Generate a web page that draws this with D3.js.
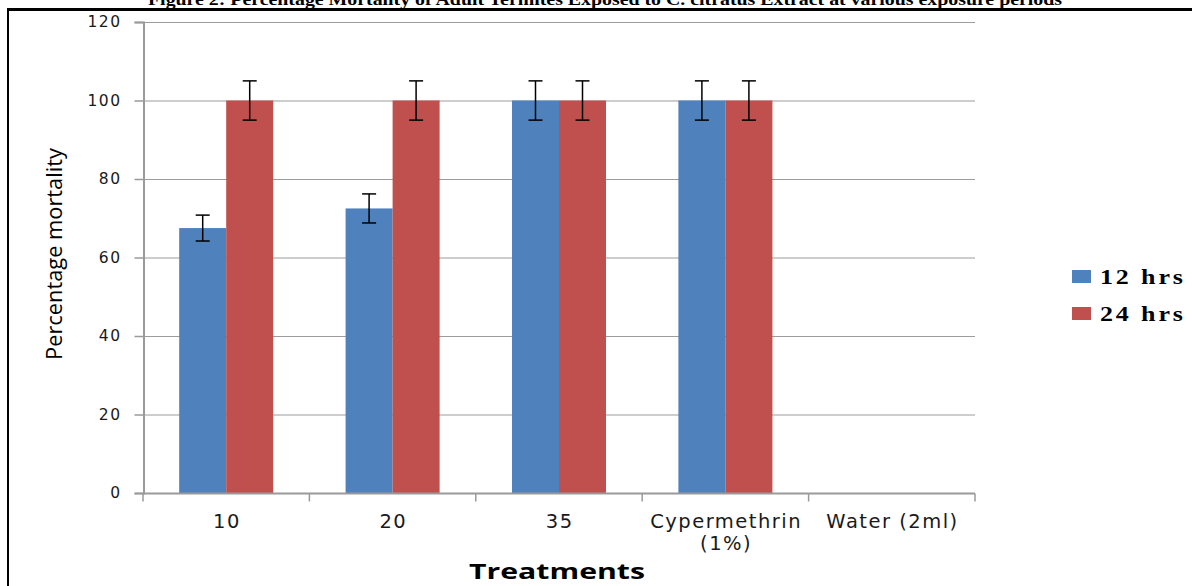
<!DOCTYPE html>
<html><head><meta charset="utf-8">
<script src="https://cdn.jsdelivr.net/npm/d3@7"></script>
<style>body{margin:0;background:#fff;} svg{display:block;}</style>
</head><body>
<svg id="c" width="1192" height="586"></svg>
<script>
const categories = ["10", "20", "35", "Cypermethrin (1%)", "Water (2ml)"];
const categoryLines = [["10"], ["20"], ["35"], ["Cypermethrin", "(1%)"], ["Water (2ml)"]];
const seriesNames = ["12 hrs", "24 hrs"];
const values12 = [67.5, 72.5, 100, 100, 0];
const values24 = [100, 100, 100, 100, 0];
const errors12 = [3.3, 3.7, 5, 5, 0];
const errors24 = [5, 5, 5, 5, 0];
const yTicks = [0, 20, 40, 60, 80, 100, 120];
const colors = ["#4F81BD", "#C0504D"];
const titleText = "Figure 2: Percentage Mortality of Adult Termites Exposed to C. citratus Extract at various exposure periods";

(function(){
const svg = d3.select("#c");
const mLeft = 143, mRight = 975, mTop = 22, mBottom = 493;

// frame
svg.append("line").attr("x1",8).attr("x2",1192).attr("y1",9.5).attr("y2",9.5).attr("stroke","#000").attr("stroke-width",3);
svg.append("line").attr("x1",8).attr("x2",8).attr("y1",8).attr("y2",586).attr("stroke","#000").attr("stroke-width",2);
svg.append("text").attr("x",605).attr("y",5).attr("text-anchor","middle")
  .attr("font-family","Liberation Serif, Times New Roman, serif").attr("font-weight","bold").attr("font-size",16)
  .attr("textLength",914).attr("lengthAdjust","spacingAndGlyphs")
  .text(titleText);

const x0 = d3.scaleBand().domain(categories).range([mLeft, mRight]).paddingInner(0).paddingOuter(0);
const x1 = d3.scaleBand().domain(seriesNames).range([0, x0.bandwidth()]).paddingInner(0).paddingOuter(0.77);
const y = d3.scaleLinear().domain([0, 120]).range([mBottom, mTop]);

// gridlines
svg.append("g").selectAll("line").data(yTicks.filter(d=>d>0)).join("line")
  .attr("x1", mLeft).attr("x2", mRight).attr("y1", d=>y(d)+0.5).attr("y2", d=>y(d)+0.5)
  .attr("stroke","#9c9c9c").attr("stroke-width",1.2);

// y axis
const yAxis = svg.append("g").attr("transform",`translate(${mLeft+0.5},0)`)
  .call(d3.axisLeft(y).tickValues(yTicks).tickSize(9).tickPadding(13));
yAxis.select(".domain").attr("stroke","#9a9a9a").attr("stroke-width",2);
yAxis.selectAll(".tick line").attr("stroke","#9a9a9a").attr("stroke-width",1.5);
yAxis.selectAll("text").attr("font-family","DejaVu Sans, Verdana, sans-serif").attr("font-size",15.5)
  .attr("letter-spacing",1.5).attr("fill","#1a1a1a");

// bars
const data = [values12, values24];
const errs = [errors12, errors24];
seriesNames.forEach((s, si) => {
  const g = svg.append("g");
  g.selectAll("rect").data(categories).join("rect")
    .attr("x", c => x0(c) + x1(s))
    .attr("width", x1.bandwidth())
    .attr("y", (c,i) => y(data[si][i]))
    .attr("height", (c,i) => y(0) - y(data[si][i]))
    .attr("fill", colors[si]);
});

// x axis
const xAxis = svg.append("g").attr("transform",`translate(0,${mBottom+0.5})`);
xAxis.append("line").attr("x1",mLeft).attr("x2",mRight).attr("stroke","#9a9a9a").attr("stroke-width",2);
const bounds = categories.map(c=>x0(c)).concat([mRight]);
xAxis.selectAll("line.tk").data(bounds).join("line").attr("class","tk")
  .attr("x1",d=>d).attr("x2",d=>d).attr("y1",0).attr("y2",8).attr("stroke","#9a9a9a").attr("stroke-width",1.5);
xAxis.selectAll("text").data(categories).join("text")
  .attr("text-anchor","middle")
  .attr("font-family","DejaVu Sans, Verdana, sans-serif").attr("font-size",19.5)
  .attr("letter-spacing",1.5).attr("fill","#1a1a1a")
  .each(function(c,i){
    d3.select(this).selectAll("tspan").data(categoryLines[i]).join("tspan")
      .attr("x", x0(c) + x0.bandwidth()/2 + 0.75).attr("y",(d,j)=>34 + j*22).text(d=>d);
  });

// error bars
seriesNames.forEach((s, si) => {
  const g = svg.append("g").attr("stroke","#000").attr("stroke-width",1.5);
  categories.forEach((c,i) => {
    const e = errs[si][i];
    if (!e) return;
    const cx = x0(c) + x1(s) + x1.bandwidth()/2;
    const v = data[si][i];
    g.append("line").attr("x1",cx).attr("x2",cx).attr("y1",y(v+e)).attr("y2",y(v-e));
    g.append("line").attr("x1",cx-7).attr("x2",cx+7).attr("y1",y(v+e)).attr("y2",y(v+e));
    g.append("line").attr("x1",cx-7).attr("x2",cx+7).attr("y1",y(v-e)).attr("y2",y(v-e));
  });
});

// axis titles
svg.append("text").attr("transform","translate(62,254) rotate(-90)").attr("text-anchor","middle")
  .attr("font-family","Open Sans, DejaVu Sans, sans-serif").attr("font-size",22).attr("fill","#000")
  .attr("textLength",212).attr("lengthAdjust","spacingAndGlyphs")
  .text("Percentage mortality");
svg.append("text").attr("x",557).attr("y",579).attr("text-anchor","middle")
  .attr("font-family","Open Sans, DejaVu Sans, sans-serif").attr("font-weight","bold").attr("font-size",21).attr("fill","#000")
  .attr("textLength",176).attr("lengthAdjust","spacingAndGlyphs")
  .text("Treatments");

// legend
const leg = svg.append("g");
seriesNames.forEach((s, si) => {
  const yy = 270 + si*37;
  leg.append("rect").attr("x",1072).attr("y",yy).attr("width",19).attr("height",13).attr("fill",colors[si]);
  leg.append("text").attr("transform",`translate(1100,${yy+14}) scale(1.3,1)`)
    .attr("font-family","Liberation Serif, Times New Roman, serif")
    .attr("font-weight","bold").attr("font-size",20).attr("letter-spacing",2.2).attr("fill","#000").text(s);
});
})();
</script>
</body></html>
